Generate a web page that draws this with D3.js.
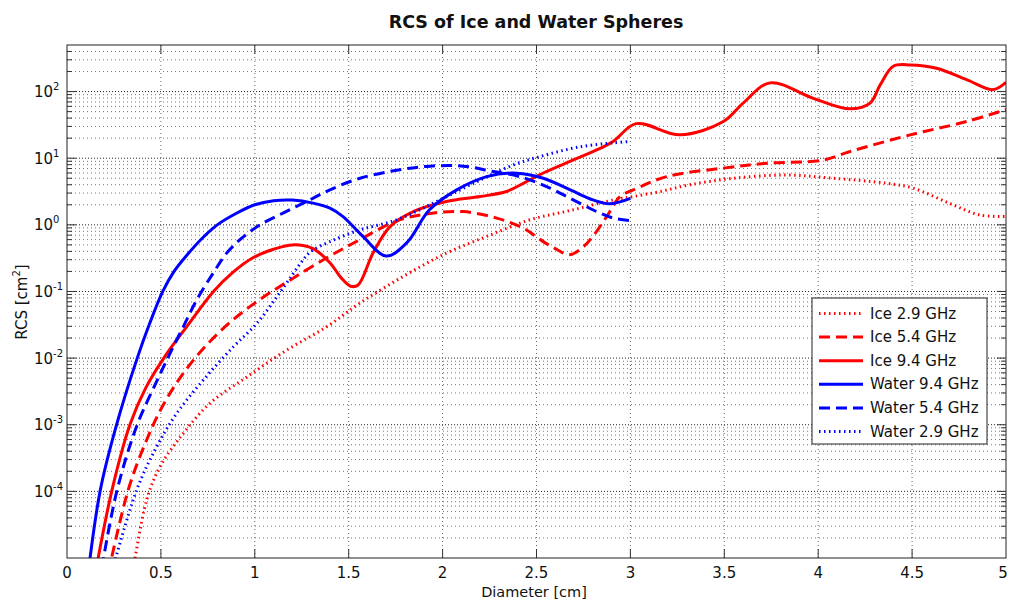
<!DOCTYPE html>
<html>
<head>
<meta charset="utf-8">
<script src="https://cdn.jsdelivr.net/npm/d3@7"></script>
<style>
  body { margin: 0; background: #fff; }
  svg { display: block; font-family: "DejaVu Sans", Verdana, sans-serif; }
</style>
</head>
<body>
<svg></svg>
<script>
// diameter [cm] / rcs [cm^2]
var iceD29 = [0.35, 0.424, 0.495, 0.619, 0.761, 0.957, 1.17, 1.383, 1.56, 1.79, 2.02, 2.235, 2.465, 2.696, 2.91, 3.016, 3.158, 3.317, 3.548, 3.832, 4.08, 4.365, 4.506, 4.70, 4.86, 5.0];
var iceV29 = [6e-6, 7.4e-5, 2.34e-4, 7.4e-4, 2.1e-3, 5.2e-3, 1.32e-2, 2.95e-2, 6.7e-2, 0.168, 0.376, 0.67, 1.19, 1.68, 2.37, 2.66, 3.16, 4.0, 5.0, 5.6, 5.0, 4.2, 3.55, 2.1, 1.41, 1.33];

var iceD54 = [0.22, 0.326, 0.424, 0.513, 0.619, 0.744, 0.886, 1.028, 1.17, 1.383, 1.56, 1.756, 1.933, 2.11, 2.288, 2.43, 2.536, 2.6, 2.675, 2.75, 2.80, 2.874, 2.945, 3.016, 3.193, 3.495, 3.726, 4.027, 4.17, 4.49, 4.79, 5.0];
var iceV54 = [6e-6, 1.05e-4, 5.9e-4, 2.0e-3, 5.9e-3, 1.58e-2, 3.8e-2, 7.6e-2, 0.138, 0.32, 0.6, 1.15, 1.48, 1.58, 1.26, 0.89, 0.56, 0.44, 0.355, 0.47, 0.67, 1.33, 2.66, 3.35, 5.3, 7.1, 8.4, 9.4, 12.6, 22.4, 35.5, 53.7];

var iceD94 = [0.14, 0.238, 0.335, 0.42, 0.525, 0.637, 0.78, 0.88, 0.99, 1.1, 1.2, 1.31, 1.40, 1.46, 1.51, 1.55, 1.63, 1.72, 1.844, 2.02, 2.2, 2.34, 2.43, 2.536, 2.696, 2.82, 2.91, 3.03, 3.264, 3.495, 3.60, 3.743, 3.974, 4.17, 4.276, 4.33, 4.40, 4.49, 4.63, 4.79, 4.93, 5.0];
var iceV94 = [4e-6, 1e-4, 1e-3, 3.6e-3, 1.1e-2, 2.95e-2, 0.1, 0.19, 0.32, 0.43, 0.5, 0.44, 0.27, 0.16, 0.12, 0.125, 0.38, 0.94, 1.58, 2.24, 2.66, 3.16, 4.2, 6.0, 9.4, 13.3, 18, 33, 22.4, 35.5, 67, 135, 79, 55, 67, 126, 240, 251, 224, 151, 107, 138];

var watD94 = [0.1, 0.176, 0.264, 0.374, 0.44, 0.51, 0.57, 0.64, 0.72, 0.8, 0.9, 1.0, 1.1, 1.2, 1.31, 1.40, 1.47, 1.578, 1.70, 1.81, 1.93, 2.075, 2.235, 2.395, 2.536, 2.68, 2.80, 2.89, 3.0];
var watV94 = [3e-6, 1e-4, 1e-3, 1e-2, 3.3e-2, 0.1, 0.2, 0.355, 0.63, 1.0, 1.48, 2.0, 2.3, 2.35, 2.12, 1.78, 1.33, 0.66, 0.34, 0.54, 1.68, 3.35, 5.3, 5.97, 5.0, 3.35, 2.37, 2.07, 2.5];

var watD54 = [0.17, 0.265, 0.374, 0.478, 0.548, 0.619, 0.69, 0.779, 0.85, 0.93, 1.028, 1.15, 1.276, 1.40, 1.56, 1.756, 1.933, 2.11, 2.27, 2.41, 2.554, 2.68, 2.82, 2.91, 3.0];
var watV54 = [4e-6, 1e-4, 1e-3, 4.5e-3, 1.17e-2, 2.95e-2, 7.4e-2, 0.19, 0.376, 0.63, 1.0, 1.5, 2.24, 3.35, 5.0, 6.6, 7.6, 7.6, 6.3, 5.3, 3.76, 2.5, 1.58, 1.26, 1.16];

var watD29 = [0.23, 0.371, 0.478, 0.584, 0.726, 0.886, 1.01, 1.117, 1.2, 1.25, 1.3, 1.4, 1.56, 1.756, 1.986, 2.2, 2.376, 2.55, 2.73, 2.91, 3.0];
var watV29 = [5e-6, 1.05e-4, 4.7e-4, 1.48e-3, 4.7e-3, 1.48e-2, 3.3e-2, 8.3e-2, 0.178, 0.28, 0.4, 0.56, 0.84, 1.19, 2.37, 4.7, 7.9, 11.2, 14.8, 17, 17.8];

var seriesNames = ["Ice 2.9 GHz", "Ice 5.4 GHz", "Ice 9.4 GHz", "Water 9.4 GHz", "Water 5.4 GHz", "Water 2.9 GHz"];
var xTicks = [0, 0.5, 1, 1.5, 2, 2.5, 3, 3.5, 4, 4.5, 5];
var yDecades = [-4, -3, -2, -1, 0, 1, 2];

var width = 1009;
var height = 603;
var pL = 67, pR = 1006, pT = 45, pB = 558;

var svg = d3.select("svg")
    .attr("width", width)
    .attr("height", height);

var xScale = d3.scaleLinear()
    .domain([0, 5])
    .range([pL, pR]);

var yScale = d3.scaleLog()
    .domain([1e-5, 500])
    .range([pB, pT]);

var series = [
    { name: seriesNames[0], d: iceD29, v: iceV29, color: "#ff0000", dash: "1.5,3.5", w: 3 },
    { name: seriesNames[1], d: iceD54, v: iceV54, color: "#ff0000", dash: "11,6", w: 3 },
    { name: seriesNames[2], d: iceD94, v: iceV94, color: "#ff0000", dash: null, w: 3 },
    { name: seriesNames[3], d: watD94, v: watV94, color: "#0000ff", dash: null, w: 3 },
    { name: seriesNames[4], d: watD54, v: watV54, color: "#0000ff", dash: "11,6", w: 3 },
    { name: seriesNames[5], d: watD29, v: watV29, color: "#0000ff", dash: "1.5,3.5", w: 3 }
];

// minor + major y grid values
var yGrid = [];
for (var e = -5; e <= 2; e++) {
    for (var k = 1; k <= 9; k++) {
        var val = k * Math.pow(10, e);
        if (val > 1e-5 && val < 500) yGrid.push({ v: val, major: k == 1 });
    }
}

var grid = svg.append("g");
grid.selectAll(".yg")
    .data(yGrid)
    .enter()
    .append("line")
    .attr("x1", pL)
    .attr("x2", pR)
    .attr("y1", d => yScale(d.v))
    .attr("y2", d => yScale(d.v))
    .attr("stroke", d => d.major ? "#222" : "#777")
    .attr("stroke-width", 1)
    .attr("stroke-dasharray", d => d.major ? "1,2" : "1,3");

grid.selectAll(".xg")
    .data(xTicks.slice(1, -1))
    .enter()
    .append("line")
    .attr("x1", d => xScale(d))
    .attr("x2", d => xScale(d))
    .attr("y1", pT)
    .attr("y2", pB)
    .attr("stroke", "#666")
    .attr("stroke-width", 1)
    .attr("stroke-dasharray", "1,3");

// ticks on all four sides
var ticks = svg.append("g").attr("stroke", "#333").attr("stroke-width", 1);
ticks.selectAll(".yl")
    .data(yGrid)
    .enter()
    .append("line")
    .attr("x1", pL)
    .attr("x2", d => pL + (d.major ? 9 : 5))
    .attr("y1", d => yScale(d.v))
    .attr("y2", d => yScale(d.v));
ticks.selectAll(".yr")
    .data(yGrid)
    .enter()
    .append("line")
    .attr("x1", pR)
    .attr("x2", d => pR - (d.major ? 9 : 5))
    .attr("y1", d => yScale(d.v))
    .attr("y2", d => yScale(d.v));
ticks.selectAll(".xb")
    .data(xTicks.slice(1, -1))
    .enter()
    .append("line")
    .attr("x1", d => xScale(d))
    .attr("x2", d => xScale(d))
    .attr("y1", pB)
    .attr("y2", pB - 9);
ticks.selectAll(".xt")
    .data(xTicks.slice(1, -1))
    .enter()
    .append("line")
    .attr("x1", d => xScale(d))
    .attr("x2", d => xScale(d))
    .attr("y1", pT)
    .attr("y2", pT + 9);

// curves
svg.append("clipPath")
    .attr("id", "plotclip")
    .append("rect")
    .attr("x", pL)
    .attr("y", pT)
    .attr("width", pR - pL)
    .attr("height", pB - pT);

var line = d3.line()
    .x(p => xScale(p[0]))
    .y(p => yScale(p[1]))
    .curve(d3.curveCatmullRom.alpha(0.5));

svg.append("g")
    .attr("clip-path", "url(#plotclip)")
    .selectAll("path")
    .data(series)
    .enter()
    .append("path")
    .attr("d", s => line(s.d.map((x, i) => [x, s.v[i]])))
    .attr("fill", "none")
    .attr("stroke", s => s.color)
    .attr("stroke-width", s => s.w)
    .attr("stroke-dasharray", s => s.dash)
    .attr("stroke-linejoin", "round");

// axes box
svg.append("rect")
    .attr("x", pL)
    .attr("y", pT)
    .attr("width", pR - pL)
    .attr("height", pB - pT)
    .attr("fill", "none")
    .attr("stroke", "#222")
    .attr("stroke-width", 1);

// tick labels
svg.selectAll(".xlab")
    .data(xTicks)
    .enter()
    .append("text")
    .attr("x", d => Math.min(xScale(d), 1003))
    .attr("y", 578)
    .attr("text-anchor", "middle")
    .attr("font-size", 15)
    .attr("fill", "#111")
    .text(d => d);

var ylab = svg.selectAll(".ylab")
    .data(yDecades)
    .enter()
    .append("text")
    .attr("x", 34)
    .attr("y", d => yScale(Math.pow(10, d)) + 5.5)
    .attr("font-size", 15)
    .attr("fill", "#111");
ylab.append("tspan").text("10");
ylab.append("tspan")
    .attr("dy", -7)
    .attr("font-size", 10)
    .text(d => d < 0 ? "-" + (-d) : d);

// titles
svg.append("text")
    .attr("x", 536)
    .attr("y", 28)
    .attr("text-anchor", "middle")
    .attr("font-size", 17.5)
    .attr("font-weight", "bold")
    .attr("fill", "#111")
    .text("RCS of Ice and Water Spheres");

svg.append("text")
    .attr("x", 534)
    .attr("y", 597)
    .attr("text-anchor", "middle")
    .attr("font-size", 14.5)
    .attr("fill", "#111")
    .text("Diameter [cm]");

var yt = svg.append("text")
    .attr("transform", "translate(27,302) rotate(-90)")
    .attr("text-anchor", "middle")
    .attr("font-size", 15)
    .attr("fill", "#111");
yt.append("tspan").text("RCS [cm");
yt.append("tspan").attr("dy", -7).attr("font-size", 10).text("2");
yt.append("tspan").attr("dy", 7).text("]");

// legend
var lg = svg.append("g");
lg.append("rect")
    .attr("x", 812)
    .attr("y", 298)
    .attr("width", 175)
    .attr("height", 146)
    .attr("fill", "#fff")
    .attr("stroke", "#222")
    .attr("stroke-width", 1);

var rows = lg.selectAll(".row")
    .data(series)
    .enter()
    .append("g")
    .attr("transform", (s, i) => "translate(0," + (313.5 + i * 23.6) + ")");
rows.append("line")
    .attr("x1", 819)
    .attr("x2", 863)
    .attr("y1", 0)
    .attr("y2", 0)
    .attr("stroke", s => s.color)
    .attr("stroke-width", s => s.w)
    .attr("stroke-dasharray", s => s.dash);
rows.append("text")
    .attr("x", 870)
    .attr("y", 5)
    .attr("font-size", 15)
    .attr("fill", "#111")
    .text(s => s.name);
</script>
</body>
</html>
